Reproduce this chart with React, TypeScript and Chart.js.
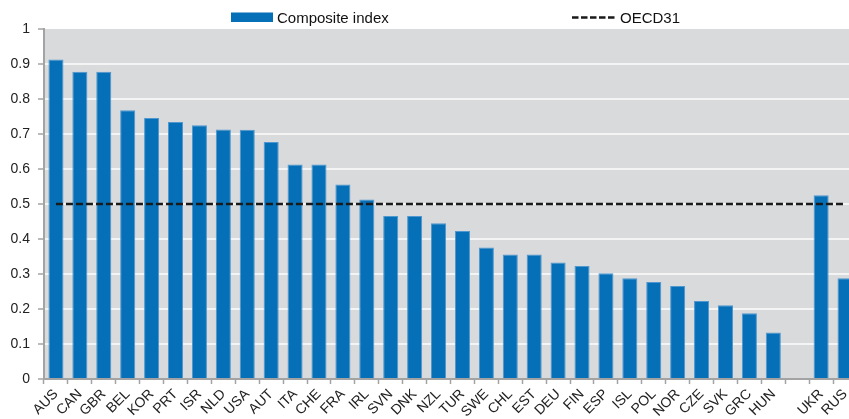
import React, { useEffect, useRef } from "react";
import { Chart, registerables } from "chart.js";

Chart.register(...registerables);

const categories: string[] = [
  "AUS", "CAN", "GBR", "BEL", "KOR", "PRT", "ISR", "NLD", "USA", "AUT",
  "ITA", "CHE", "FRA", "IRL", "SVN", "DNK", "NZL", "TUR", "SWE", "CHL",
  "EST", "DEU", "FIN", "ESP", "ISL", "POL", "NOR", "CZE", "SVK", "GRC",
  "HUN", "", "UKR", "RUS",
];

const compositeIndex: (number | null)[] = [
  0.913, 0.878, 0.878, 0.768, 0.746, 0.734, 0.725, 0.713, 0.712, 0.677,
  0.613, 0.613, 0.556, 0.513, 0.466, 0.466, 0.445, 0.423, 0.376, 0.356,
  0.356, 0.333, 0.323, 0.302, 0.288, 0.277, 0.266, 0.223, 0.211, 0.188,
  0.133, null, 0.525, 0.288,
];

const oecd31Value = 0.5;
const oecd31: number[] = categories.map(() => oecd31Value);

const yTicks: number[] = [0, 0.1, 0.2, 0.3, 0.4, 0.5, 0.6, 0.7, 0.8, 0.9, 1];

const legendLabels: string[] = ["Composite index", "OECD31"];

const BAR_COLOR = "#0570b8";
const FONT = "'Liberation Sans', Arial, sans-serif";

export default function App() {
  const canvasRef = useRef<HTMLCanvasElement | null>(null);

  useEffect(() => {
    const canvas = canvasRef.current;
    if (!canvas) return;

    const bgPlugin = {
      id: "plotBg",
      beforeDraw(chart: any) {
        const { ctx, chartArea } = chart;
        ctx.save();
        ctx.fillStyle = "#d9dadc";
        ctx.fillRect(chartArea.left, chartArea.top, chartArea.right - chartArea.left, chartArea.bottom - chartArea.top);
        ctx.restore();
      },
    };

    const legendPlugin = {
      id: "customLegend",
      afterDraw(chart: any) {
        const ctx = chart.ctx;
        ctx.save();
        ctx.fillStyle = BAR_COLOR;
        ctx.fillRect(231, 12.5, 42, 9.5);
        ctx.fillStyle = "#111";
        ctx.font = `15px ${FONT}`;
        ctx.textBaseline = "alphabetic";
        ctx.textAlign = "left";
        ctx.fillText(legendLabels[0], 277, 23);
        ctx.strokeStyle = "#1a1a1a";
        ctx.lineWidth = 2.5;
        ctx.setLineDash([6.5, 2.5]);
        ctx.beginPath();
        ctx.moveTo(572, 17.5);
        ctx.lineTo(617, 17.5);
        ctx.stroke();
        ctx.setLineDash([]);
        ctx.fillText(legendLabels[1], 620, 23);
        ctx.restore();
      },
    };

    const chart = new Chart(canvas, {
      type: "bar",
      data: {
        labels: categories,
        datasets: [
          {
            type: "line",
            label: legendLabels[1],
            data: oecd31,
            borderColor: "#1a1a1a",
            borderWidth: 2.5,
            borderDash: [7, 3],
            pointRadius: 0,
            fill: false,
            order: 0,
          } as any,
          {
            type: "bar",
            label: legendLabels[0],
            data: compositeIndex,
            backgroundColor: BAR_COLOR,
            borderColor: "#4f97cf",
            borderWidth: 1,
            barPercentage: 0.63,
            categoryPercentage: 1,
            order: 1,
          } as any,
        ],
      },
      options: {
        responsive: false,
        devicePixelRatio: 1,
        animation: false,
        layout: { padding: { top: 29, right: 3, left: 0, bottom: 0 } },
        plugins: {
          legend: { display: false },
          tooltip: { enabled: false },
        },
        scales: {
          x: {
            offset: true,
            afterFit: (scale: any) => {
              scale.height = 61;
            },
            border: { display: true, color: "#a3a3a3", width: 2 },
            grid: {
              offset: true,
              drawOnChartArea: false,
              drawTicks: true,
              tickLength: 5,
              tickColor: "#a3a3a3",
              tickWidth: 1.5,
            },
            ticks: {
              autoSkip: false,
              maxRotation: 45,
              minRotation: 45,
              padding: 2,
              color: "#222",
              font: { family: FONT, size: 14 },
            },
          },
          y: {
            min: 0,
            max: 1,
            afterFit: (scale: any) => {
              scale.width = 44;
            },
            afterBuildTicks: (scale: any) => {
              scale.ticks = yTicks.map((v) => ({ value: v }));
            },
            border: { display: true, color: "#a3a3a3", width: 2 },
            grid: {
              color: (ctx: any) =>
                ctx.tick && (ctx.tick.value === 1 || ctx.tick.value === 0) ? "rgba(0,0,0,0)" : "#f4f4f4",
              lineWidth: 2,
              drawTicks: true,
              tickLength: 6,
              tickColor: "#a3a3a3",
              tickWidth: 1.5,
            },
            ticks: {
              padding: 8,
              color: "#222",
              font: { family: FONT, size: 14 },
              callback: (v: any) => String(Math.round(Number(v) * 10) / 10),
            },
          },
        },
      },
      plugins: [bgPlugin, legendPlugin],
    });

    return () => {
      chart.destroy();
    };
  }, []);

  return (
    <div
      style={{
        position: "fixed",
        left: 0,
        top: 0,
        width: 849,
        height: 419,
        overflow: "hidden",
        background: "#fff",
      }}
    >
      <canvas ref={canvasRef} width={860} height={440} style={{ width: 860, height: 440, display: "block" }} />
    </div>
  );
}
